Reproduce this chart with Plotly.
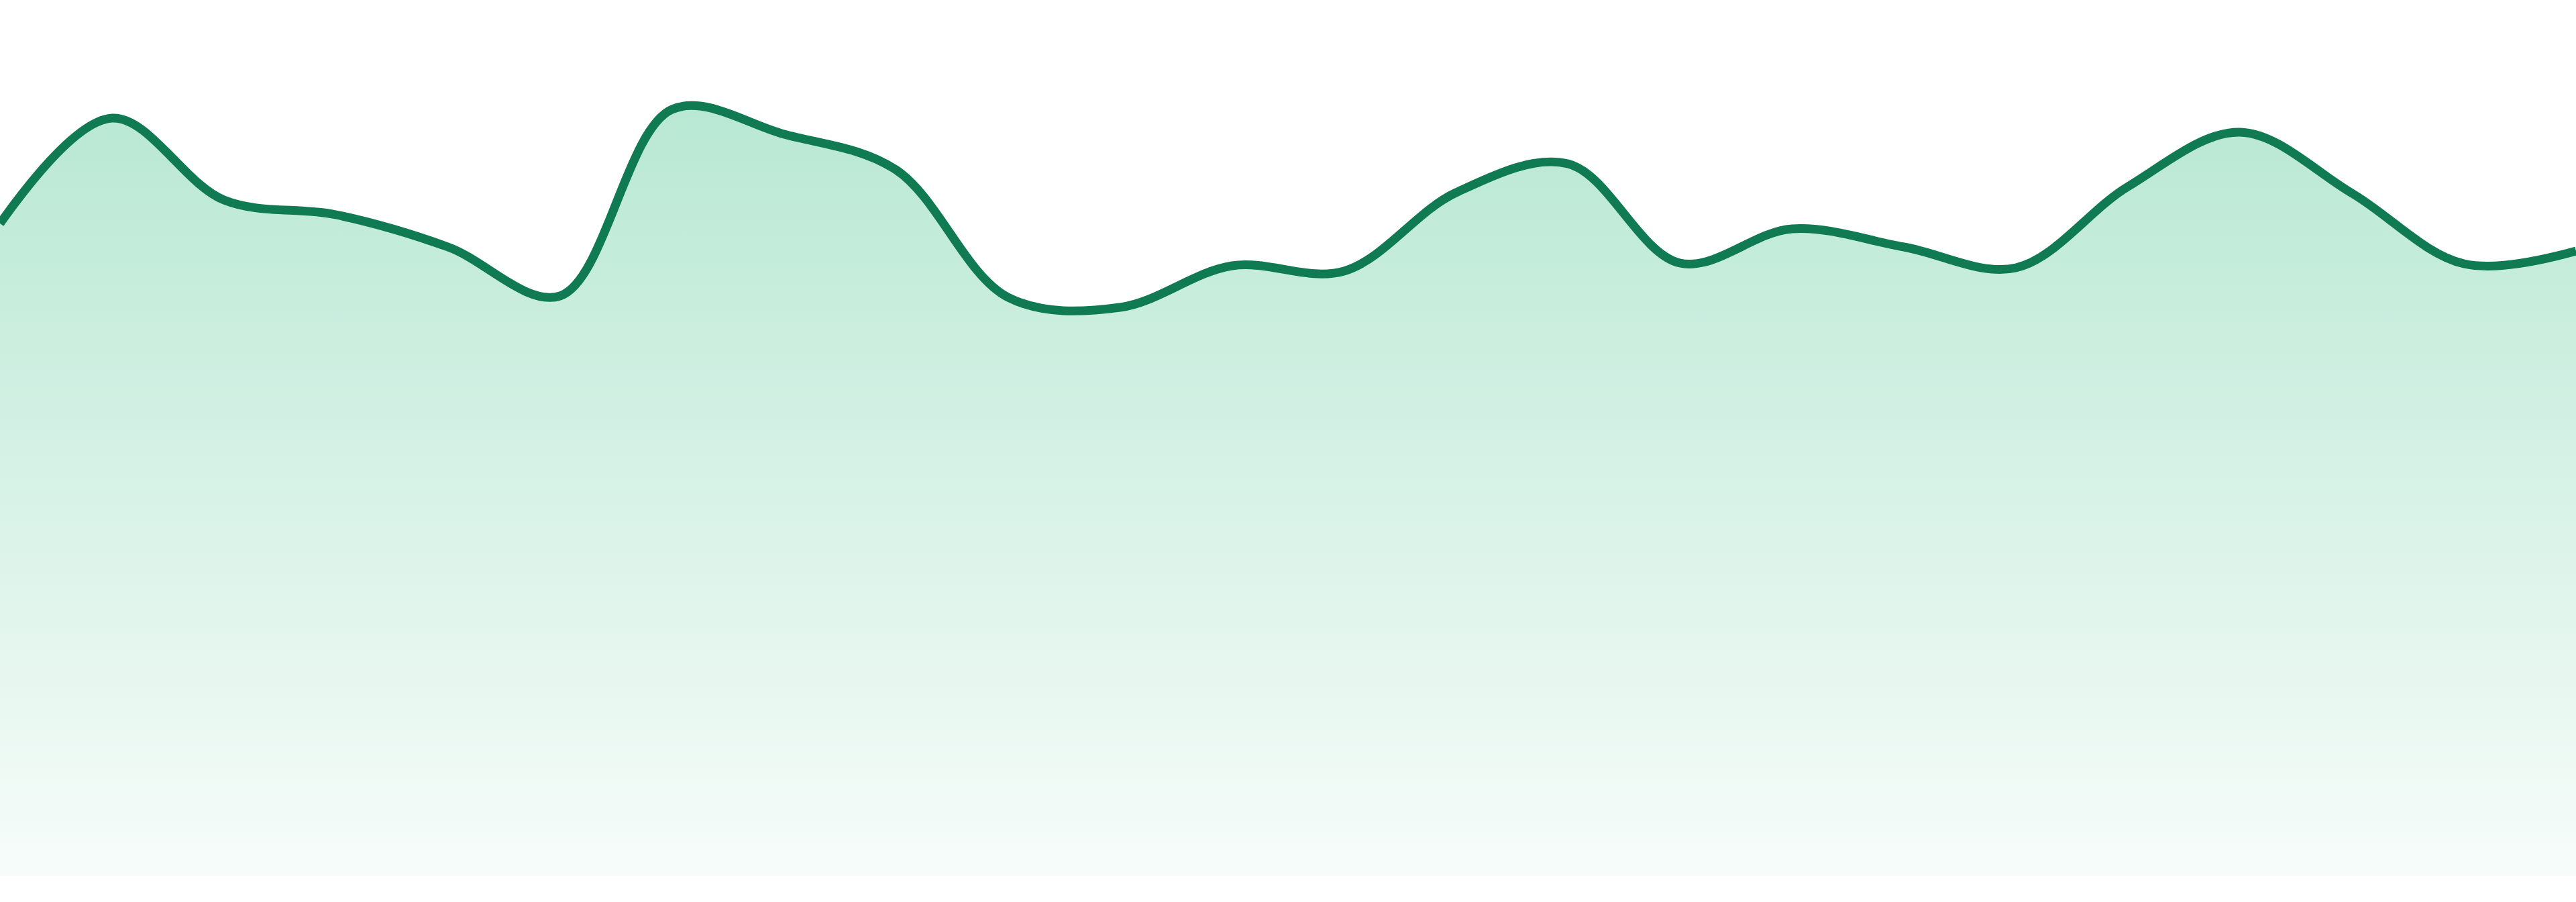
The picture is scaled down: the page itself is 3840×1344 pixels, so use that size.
import plotly.graph_objects as go

# %% Data ----------------------------------------------------------------------
days = list(range(24))
values = [
    97.2, 112.9, 100.7, 98.5, 93.7, 86.4, 114.2, 110.5, 105.2, 86.2, 84.7, 90.9,
    90.1, 101.8, 106.1, 91.3, 96.4, 93.7, 90.6, 102.7, 110.8, 101.7, 91.2, 93.1,
]

line_color = "#107a52"

# %% Figure --------------------------------------------------------------------
fig = go.Figure()
fig.add_trace(
    go.Scatter(
        x=days,
        y=values,
        mode="lines",
        line=dict(color=line_color, width=13, shape="spline", smoothing=1),
        fill="tozeroy",
        fillgradient=dict(
            type="vertical",
            colorscale=[[0, "#f7fcfa"], [1, "#b8e8d3"]],
        ),
        hoverinfo="skip",
    )
)

fig.update_layout(
    width=3840,
    height=1344,
    margin=dict(l=0, r=0, t=0, b=39),
    paper_bgcolor="white",
    plot_bgcolor="white",
    showlegend=False,
)
fig.update_xaxes(visible=False, range=[0, 23])
fig.update_yaxes(visible=False, range=[0, 130.5])

# drop the default page margin so the plot sits flush with the window
fig.write_html(
    "out.html",
    config={"displayModeBar": False},
    post_script="document.body.style.margin='0';document.body.style.overflow='hidden';",
)
